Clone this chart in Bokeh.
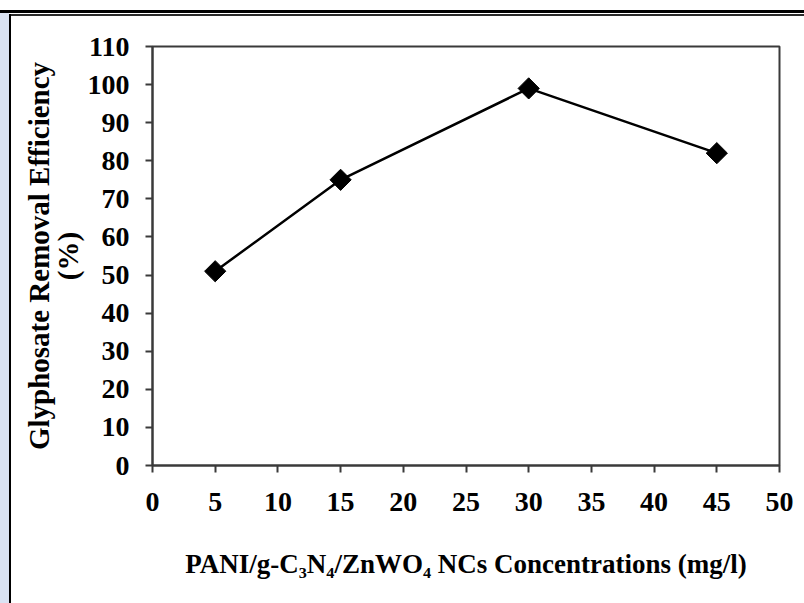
from bokeh.plotting import figure
from bokeh.models import FixedTicker, Range1d
from bokeh.embed import file_html
from bokeh.resources import INLINE

# data
concentrations = [5, 15, 30, 45]
removal_efficiency = [51, 75, 99, 82]
x_ticks = list(range(0, 55, 5))
y_ticks = list(range(0, 120, 10))

FONT = "Liberation Serif"

p = figure(width=804, height=603, output_backend="svg", toolbar_location=None,
           x_range=Range1d(0, 50), y_range=Range1d(0, 110),
           min_border_left=152, min_border_right=25, min_border_top=46, min_border_bottom=138)

p.background_fill_color = "white"
p.border_fill_color = None
p.outline_line_color = "#3a3a3a"
p.outline_line_width = 2
p.grid.visible = False

# page frame of the source document, drawn as the figure's CSS background
p.styles = {
    "background-color": "white",
    "background-image": ("linear-gradient(#000,#000), linear-gradient(#dae3f3,#dae3f3), "
                         "linear-gradient(#000,#000), linear-gradient(#2a2a2a,#2a2a2a)"),
    "background-size": "804px 3px, 9px 591px, 2px 589px, 793px 2px",
    "background-position": "0px 10px, 0px 13px, 9px 14px, 11px 14px",
    "background-repeat": "no-repeat",
}

p.line(concentrations, removal_efficiency, line_color="black", line_width=2.5)
p.scatter(concentrations, removal_efficiency, marker="square", angle=0.7853981634,
          size=15, fill_color="black", line_color="black")

for ax in (p.xaxis[0], p.yaxis[0]):
    ax.axis_line_color = "#3a3a3a"
    ax.axis_line_width = 2
    ax.major_tick_line_color = "#3a3a3a"
    ax.major_tick_line_width = 2
    ax.major_tick_out = 7
    ax.major_tick_in = 0
    ax.minor_tick_line_color = None
    ax.major_label_text_font = FONT
    ax.major_label_text_font_style = "bold"
    ax.major_label_text_font_size = "28px"
    ax.major_label_text_color = "black"
    ax.axis_label_text_font = FONT
    ax.axis_label_text_font_style = "bold"
    ax.axis_label_text_color = "black"

p.xaxis[0].ticker = FixedTicker(ticks=x_ticks)
p.yaxis[0].ticker = FixedTicker(ticks=y_ticks)
p.xaxis[0].major_label_standoff = 20
p.yaxis[0].major_label_standoff = 16
p.xaxis[0].axis_label = "PANI/g-C\u2083N\u2084/ZnWO\u2084 NCs Concentrations (mg/l)"
p.xaxis[0].axis_label_text_font_size = "27px"
p.xaxis[0].axis_label_standoff = 35
p.yaxis[0].axis_label = "Glyphosate Removal Efficiency\n(%)"
p.yaxis[0].axis_label_text_font_size = "29px"
p.yaxis[0].axis_label_text_line_height = 0.9
p.yaxis[0].axis_label_standoff = 1

open("out.html", "w").write(file_html(p, INLINE))
